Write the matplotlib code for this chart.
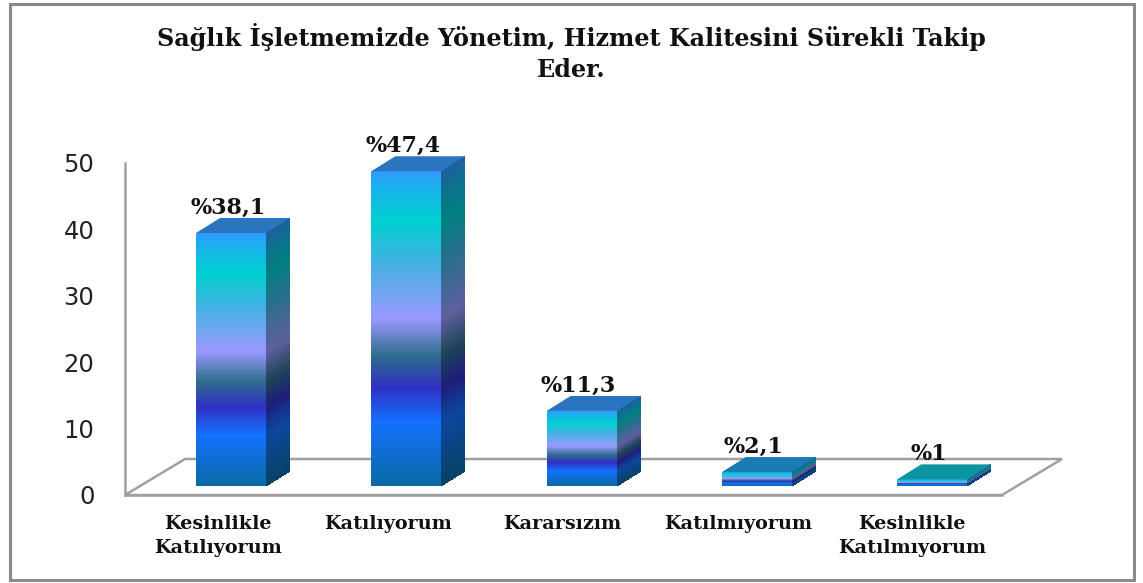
import numpy as np
import matplotlib
matplotlib.use('Agg')
import matplotlib.pyplot as plt
from matplotlib.colors import LinearSegmentedColormap
from matplotlib.patches import Polygon, Rectangle

categories = ['Kesinlikle\nKatılıyorum', 'Katılıyorum', 'Kararsızım', 'Katılmıyorum', 'Kesinlikle\nKatılmıyorum']
values = [38.1, 47.4, 11.3, 2.1, 1.0]
value_labels = ['%38,1', '%47,4', '%11,3', '%2,1', '%1']
y_ticks = [0, 10, 20, 30, 40, 50]
title_line1 = 'Sağlık İşletmemizde Yönetim, Hizmet Kalitesini Sürekli Takip'
title_line2 = 'Eder.'

W, H = 1143, 583
SERIF = 'DejaVu Serif'  # orijinal yazi yatay gerilmis, bu font daha yakin

# gradyan: alttan üste
stops = [(0.0, '#0a6aa4'), (0.2, '#1470ff'), (0.31, '#3030c4'), (0.41, '#2e6c8c'),
         (0.53, '#9a99ff'), (0.72, '#3cb4e0'), (0.84, '#00d0d0'), (0.95, '#1ab0ec'), (1.0, '#3399ff')]
cmap = LinearSegmentedColormap.from_list('calm', stops)
side_stops = [(f, tuple(c * 0.62 for c in matplotlib.colors.to_rgb(col))) for f, col in stops]
side_stops[6] = (0.84, '#008080')
side_cmap = LinearSegmentedColormap.from_list('calm_side', side_stops)
top_colors = ['#2a74c0', '#2a74c0', '#2a74c0', '#1c7ab4', '#0c96a2']

fig = plt.figure(figsize=(W / 100, H / 100), dpi=100)
fig.patch.set_facecolor('white')

# dis cerceve
fig.add_artist(Rectangle((9.5 / W, 1 - 579.5 / H), 1124 / W, 576 / H, transform=fig.transFigure,
                         fill=False, ec='#8a8a8a', lw=2.2))

# eksen: sol duvar ve on taban cizgisi pikselleri
left, right, floor_y, top_y = 125, 1002, 495, 163
ax = fig.add_axes([left / W, 1 - floor_y / H, (right - left) / W, (floor_y - top_y) / H])
ax.set_xlim(left, right)
ax.set_ylim(0, 50)
ax.patch.set_alpha(0)
for s in ['top', 'right']:
    ax.spines[s].set_visible(False)
for s in ['left', 'bottom']:
    ax.spines[s].set_color('#a0a0a0')
    ax.spines[s].set_linewidth(1.8)

px = 50 / (floor_y - top_y)  # bir pikselin veri karsiligi
depth_x, depth_y = 24, 15 * px
base = 9 * px
floor_dx, floor_dy = 60, 36 * px

# taban
ax.add_patch(Polygon([(left, 0), (left + floor_dx, floor_dy), (right + floor_dx, floor_dy), (right, 0)],
                     closed=True, fill=False, ec='#a0a0a0', lw=1.8, clip_on=False, zorder=1))

centers = [231 + 175.3 * i for i in range(len(values))]
label_x = [218, 388, 562, 738, 912]
bar_w = 70
for i, v in enumerate(values):
    x0, x1 = centers[i] - bar_w / 2, centers[i] + bar_w / 2
    y0, y1 = base, base + v
    f = np.linspace(0, 1, 200)
    yy = y0 + f * v
    # on yuz
    X, Y = np.meshgrid([x0, x1], yy)
    ax.pcolormesh(X, Y, f[:-1, None], cmap=cmap, vmin=0, vmax=1, shading='flat', zorder=3, clip_on=False)
    # yan yuz
    X2 = np.column_stack([np.full_like(yy, x1), np.full_like(yy, x1 + depth_x)])
    Y2 = np.column_stack([yy, yy + depth_y])
    ax.pcolormesh(X2, Y2, f[:-1, None], cmap=side_cmap, vmin=0, vmax=1, shading='flat', zorder=3, clip_on=False)
    # ust yuz
    ax.add_patch(Polygon([(x0, y1), (x1, y1), (x1 + depth_x, y1 + depth_y), (x0 + depth_x, y1 + depth_y)],
                         closed=True, fc=top_colors[i], ec='none', zorder=4, clip_on=False))
    ax.text(centers[i] - 3, y1 + depth_y - 1 * px, value_labels[i], family=SERIF, weight='bold', fontsize=16,
            ha='center', va='bottom', color='#111111', zorder=5, clip_on=False)

ax.set_xticks(label_x)
ax.set_xticklabels(categories, family=SERIF, weight='bold', fontsize=13.8, color='#111111', linespacing=1.42)
ax.set_yticks(y_ticks)
ax.set_yticklabels([str(t) for t in y_ticks], family='DejaVu Sans', fontsize=17.5, color='#222222')
ax.tick_params(axis='both', length=0)
ax.tick_params(axis='x', pad=14.5)
ax.tick_params(axis='y', pad=22)

fig.text(571 / W, 1 - 37 / H, title_line1, family=SERIF, weight='bold', fontsize=17.2, ha='center', va='center', color='#111111')
fig.text(571 / W, 1 - 70 / H, title_line2, family=SERIF, weight='bold', fontsize=17.2, ha='center', va='center', color='#111111')

fig.savefig('out.png', dpi=100)
